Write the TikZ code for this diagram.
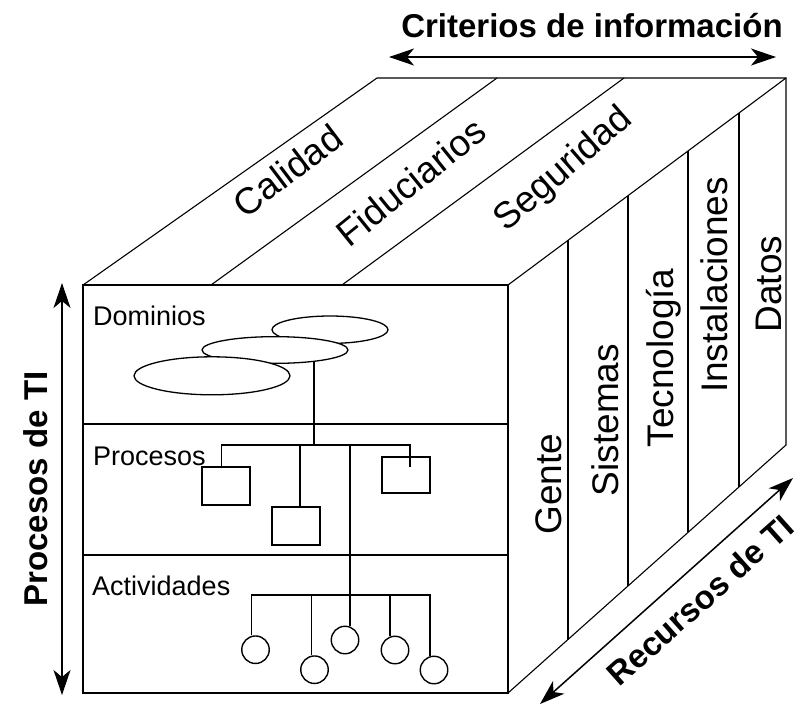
\documentclass[tikz,border=0pt]{standalone}
\usepackage{fontspec}
\setmainfont{Liberation Sans}
\usetikzlibrary{arrows.meta,shapes.geometric}
\begin{document}
\begin{tikzpicture}[x=1pt,y=-1pt,
  edge/.style={line width=1.4pt, line join=miter},
  thinedge/.style={line width=1.1pt},
  link/.style={line width=1.4pt},
  dblarrow/.style={line width=1.5pt, {Stealth[length=25pt,width=17pt,inset=7pt]}-{Stealth[length=25pt,width=17pt,inset=7pt]}},
  frontlbl/.style={font=\fontsize{27}{27}\selectfont, inner sep=0pt, anchor=base west, text=black},
  cubelbl/.style={font=\fontsize{37}{37}\selectfont, inner sep=0pt, text=black},
  sidelbl/.style={font=\fontsize{37}{37}\selectfont, inner sep=0pt, text=black, rotate=90, anchor=base},
  axislbl/.style={font=\bfseries\fontsize{33}{33}\selectfont, inner sep=0pt, text=black},
  boxnode/.style={draw, line width=1.4pt, minimum width=48pt, minimum height=38pt, inner sep=0pt},
  oval/.style={draw, ellipse, line width=1.3pt, fill=white, inner sep=0pt},
  dot/.style={draw, circle, line width=1.4pt, minimum size=27.5pt, inner sep=0pt, fill=white},
]
\useasboundingbox (0,0) rectangle (803,705);
% cube corners
\coordinate (FTL) at (83,285);
\coordinate (FTR) at (508,285);
\coordinate (FBL) at (83,693);
\coordinate (FBR) at (508,693);
\coordinate (BTL) at (377,78);
\coordinate (BTR) at (786,78);
\coordinate (BBR) at (786,445);
\coordinate (D1F) at (211,285);
\coordinate (D1B) at (497,78);
\coordinate (D2F) at (342,285);
\coordinate (D2B) at (624,78);
\coordinate (ML) at (83,424);
\coordinate (MR) at (508,424);
\coordinate (LL) at (83,555);
\coordinate (LR) at (508,555);
\coordinate (R1T) at (568,240.3);
\coordinate (R1B) at (568,639.5);
\coordinate (R2T) at (628,195.6);
\coordinate (R2B) at (628,586);
\coordinate (R3T) at (688,151);
\coordinate (R3B) at (688,532.4);
\coordinate (R4T) at (739,113);
\coordinate (R4B) at (739,487);
% cube
\draw[edge] (FTL) rectangle (FBR);
\draw[thinedge] (FTL) -- (BTL) -- (BTR) -- (BBR) -- (FBR);
\draw[thinedge] (FTR) -- (BTR);
\draw[thinedge] (D1F) -- (D1B);
\draw[thinedge] (D2F) -- (D2B);
\draw[edge] (ML) -- (MR);
\draw[edge] (LL) -- (LR);
\draw[edge] (R1T) -- (R1B);
\draw[edge] (R2T) -- (R2B);
\draw[edge] (R3T) -- (R3B);
\draw[edge] (R4T) -- (R4B);
% axis arrows
\coordinate (AL) at (389,57);
\coordinate (AR) at (776,57);
\coordinate (AT) at (62,283);
\coordinate (AB) at (62,695);
\coordinate (RA1) at (540,704);
\coordinate (RA2) at (793,478);
\draw[dblarrow] (AL) -- (AR);
\draw[dblarrow] (AT) -- (AB);
\draw[dblarrow] (RA1) -- (RA2);
% axis labels
\node[axislbl, anchor=base] (crit) at (592,37) {Criterios de información};
\node[axislbl, rotate=90, anchor=base] (proc) at (47,489) {Procesos de TI};
\node[axislbl, rotate=41.7] (rec) at (700,600) {Recursos de TI};
% top labels
\node[cubelbl, rotate=37] (cal) at (287.5,170.7) {Calidad};
\node[cubelbl, rotate=39] (fid) at (410.7,181.7) {Fiduciarios};
\node[cubelbl, rotate=41] (seg) at (564,170) {Seguridad};
% side labels
\node[sidelbl] (gen) at (561,484) {Gente};
\node[sidelbl] (sis) at (618,420) {Sistemas};
\node[sidelbl] (tec) at (673,358) {Tecnología};
\node[sidelbl] (ins) at (727,285) {Instalaciones};
\node[sidelbl] (dat) at (781,284) {Datos};
% front labels
\node[frontlbl] (dom) at (93,325) {Dominios};
\node[frontlbl] (pro) at (93,465) {Procesos};
\node[frontlbl] (act) at (92,595) {Actividades};
% domain ellipses
\node[oval, minimum width=116pt, minimum height=27.4pt] (e3) at (330,329.7) {};
\node[oval, minimum width=146pt, minimum height=26.7pt] (e2) at (275,350) {};
\node[oval, minimum width=156pt, minimum height=38pt] (e1) at (212,375.8) {};
% process boxes
\node[boxnode] (box1) at (225.9,486) {};
\node[boxnode] (box2) at (295.9,526) {};
\node[boxnode, minimum height=36pt] (box3) at (405.9,475) {};
% activity circles
\node[dot] (c1) at (255.5,649.7) {};
\node[dot] (c2) at (314.5,669.7) {};
\node[dot] (c3) at (345,640) {};
\node[dot] (c4) at (395,650) {};
\node[dot] (c5) at (434,670) {};
% junctions
\coordinate (T0) at (e2.-17.4);
\coordinate (J0) at (311.7,445);
\coordinate (BarL) at (221.7,445);
\coordinate (BarR) at (410,445);
\coordinate (J2) at (300,445);
\coordinate (J3) at (350,445);
\coordinate (K1) at (251.7,595);
\coordinate (K2) at (311.7,595);
\coordinate (K4) at (390,595);
\coordinate (K5) at (430,595);
% tree links
\draw[link] (T0) -- (T0 |- J0);
\draw[link] (BarL |- box1.north) -- (BarL) -- (BarR) -- (BarR |- box3.north) -- ++(0,11);
\draw[link] (J2) -- (J2 |- box2.north);
\draw[link] (J3) -- (J3 |- c3.north);
\draw[link] (K1 |- c1.north) -- (K1) -- (K5) -- (K5 |- c5.north);
\draw[link] (K2) -- (K2 |- c2.north);
\draw[link] (K4) -- (K4 |- c4.north);
\end{tikzpicture}
\end{document}
